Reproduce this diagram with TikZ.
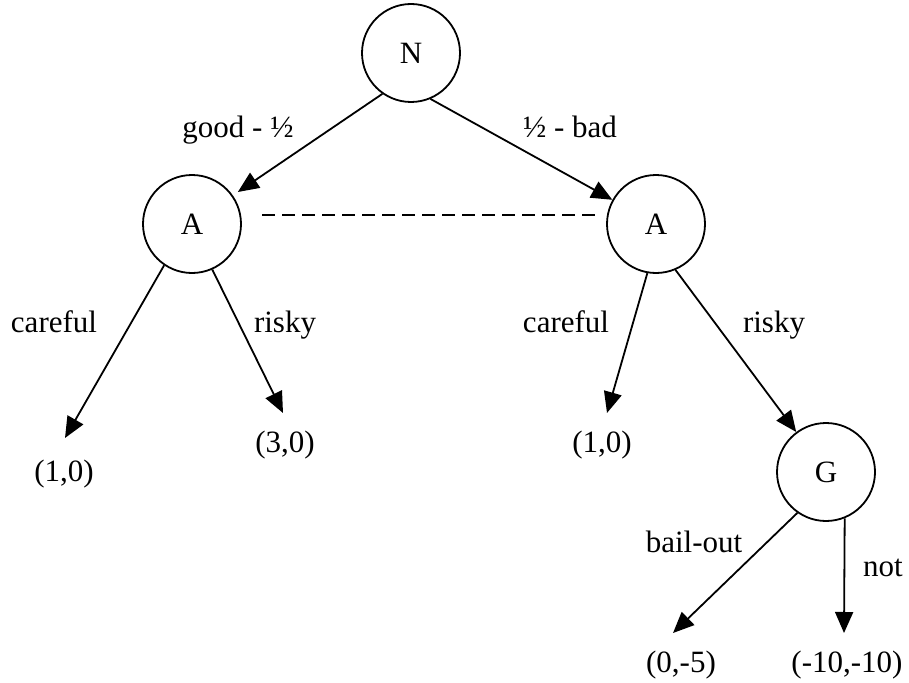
\documentclass[tikz,border=0pt]{standalone}
\usepackage{fontspec}
\setmainfont{Liberation Serif}
\usetikzlibrary{arrows.meta}
\begin{document}
\begin{tikzpicture}[x=1pt,y=-1pt,
  every node/.style={font=\fontsize{31}{36}\selectfont},
  player/.style={draw,circle,line width=1.8pt,minimum size=98pt,inner sep=0pt},
  lbl/.style={anchor=base,inner sep=0pt},
  edge/.style={line width=1.8pt,-{Triangle[length=21pt,width=18pt]}},
  infoset/.style={line width=2.2pt,dash pattern=on 13pt off 7pt}]
\useasboundingbox (0,0) rectangle (909,682);
% decision nodes
\node[player] (N)  at (411,53)  {N};
\node[player] (A1) at (192,224) {A};
\node[player] (A2) at (656,224) {A};
\node[player] (G)  at (826,472) {G};
% arrow ends
\coordinate (t1) at (65,438);
\coordinate (t2) at (283,413);
\coordinate (t3) at (607,413);
\coordinate (t4) at (673,633);
\coordinate (t5) at (844,633);
% connectors
\draw[edge,shorten >=6pt] (N.235) -- (A1.35);
\draw[edge] (N.-67) -- (A2);
\draw[edge] (A1.-124) -- (t1);
\draw[edge] (A1.-66) -- (t2);
\draw[edge] (A2.-100) -- (t3);
\draw[edge] (A2.-67) -- (G);
\draw[edge] (G.-125) -- (t4);
\draw[edge] (G.-68) -- (t5);
\draw[infoset,shorten <=21pt,shorten >=12pt] (A1.10) -- (A2.170);
% labels
\node[lbl] (l1) at (238,137) {good - ½};
\node[lbl] (l2) at (570,137) {½ - bad};
\node[lbl] (l3) at (54,332) {careful};
\node[lbl] (l4) at (285,332) {risky};
\node[lbl] (l5) at (566,332) {careful};
\node[lbl] (l6) at (774,332) {risky};
\node[lbl] (l7) at (694,552) {bail-out};
\node[lbl] (l8) at (883,576) {not};
% payoffs
\node[lbl] (p1) at (64,481) {(1,0)};
\node[lbl] (p2) at (285,452) {(3,0)};
\node[lbl] (p3) at (602,452) {(1,0)};
\node[lbl] (p4) at (681,672) {(0,-5)};
\node[lbl] (p5) at (847,672) {(-10,-10)};
\end{tikzpicture}
\end{document}
